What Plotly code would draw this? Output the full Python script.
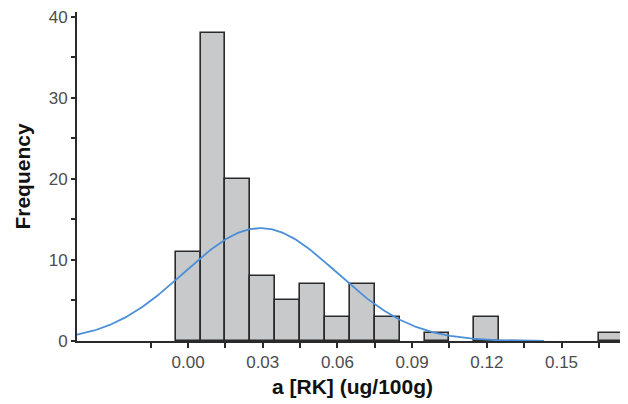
import numpy as np
import plotly.graph_objects as go

# Histogram data (non-empty bins: centers and counts)
bin_centers = [0.00, 0.01, 0.02, 0.03, 0.04, 0.05, 0.06, 0.07, 0.08, 0.10, 0.12, 0.17]
counts      = [11,   38,   20,   8,    5,    7,    3,    7,    3,    1,    3,    1]
bin_width = 0.01

x_tick_vals = [-0.015, 0.0, 0.015, 0.03, 0.045, 0.06, 0.075, 0.09, 0.105, 0.12, 0.135, 0.15, 0.165]
x_tick_text = ["", "0.00", "", "0.03", "", "0.06", "", "0.09", "", "0.12", "", "0.15", ""]
y_tick_vals = [0, 5, 10, 15, 20, 25, 30, 35, 40]
y_tick_text = ["0", "", "10", "", "20", "", "30", "", "40"]

x_range = [-0.0446, 0.1767]
y_range = [0, 40.6]
curve_start, curve_end = -0.0446, 0.143

# Normal fit derived from the binned data
c = np.array(counts, dtype=float)
xc = np.array(bin_centers)
n = c.sum()
mean = (c * xc).sum() / n
sd = np.sqrt((c * (xc - mean) ** 2).sum() / n)
xs = np.linspace(curve_start, curve_end, 300)
ys = n * bin_width / (sd * np.sqrt(2 * np.pi)) * np.exp(-0.5 * ((xs - mean) / sd) ** 2)

fig = go.Figure()
fig.add_trace(go.Bar(
    x=bin_centers, y=counts, width=bin_width,
    marker=dict(color="#c8c9cb", line=dict(color="#2a2a2a", width=1.6)),
    hoverinfo="x+y",
))
fig.add_trace(go.Scatter(
    x=xs, y=ys, mode="lines",
    line=dict(color="#4a8fd8", width=1.8),
    hoverinfo="skip",
))

axis_font = dict(family="Liberation Sans, Arial, sans-serif", size=17, color="#4d4d4d")
title_font = dict(family="Liberation Sans, Arial, sans-serif", size=21, color="#111111")

# The page places the figure 8px in from the top-left corner.
fig.update_layout(
    width=620, height=396,
    margin=dict(l=69, r=0, t=4, b=63),
    paper_bgcolor="white", plot_bgcolor="white",
    showlegend=False, bargap=0,
    xaxis=dict(
        range=x_range, showgrid=False, zeroline=False, automargin=False,
        showline=True, linecolor="#2a2a2a", linewidth=2,
        ticks="outside", ticklen=5, tickwidth=1.5, tickcolor="#2a2a2a",
        tickvals=x_tick_vals, ticktext=x_tick_text, tickfont=axis_font,
        ticklabeloverflow="allow",
        title=dict(text="<b>a [RK] (ug/100g)</b>", font=title_font, standoff=8),
    ),
    yaxis=dict(
        range=y_range, showgrid=False, zeroline=False, automargin=False,
        showline=True, linecolor="#2a2a2a", linewidth=2,
        ticks="outside", ticklen=4, tickwidth=1.5, tickcolor="#2a2a2a",
        tickvals=y_tick_vals, ticktext=y_tick_text, tickfont=axis_font,
        ticklabeloverflow="allow",
        title=dict(text="<b>Frequency</b>", font=title_font, standoff=12),
    ),
)

fig.write_html("out.html")
